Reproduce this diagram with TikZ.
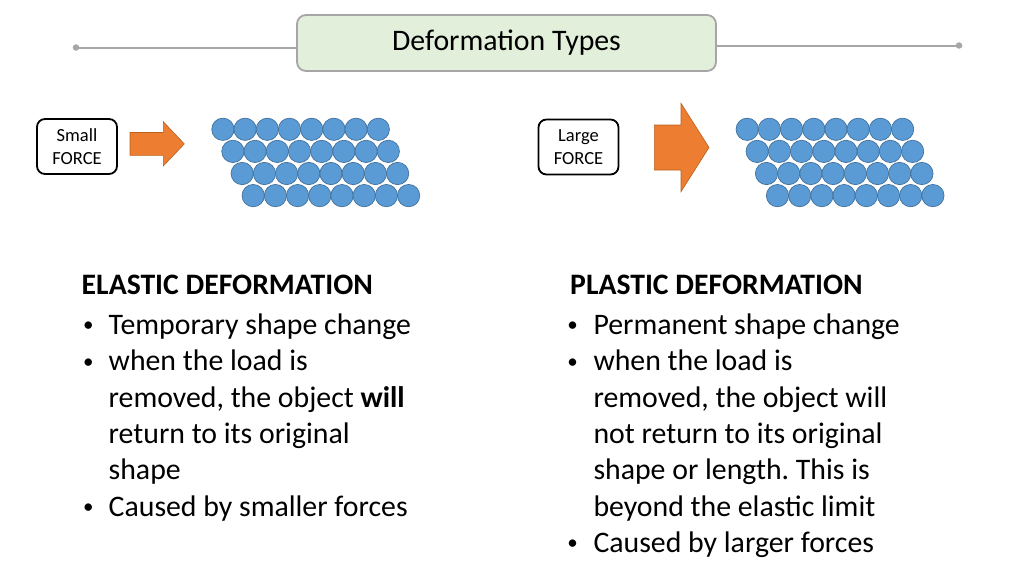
\documentclass[tikz,border=0pt]{standalone}
\usepackage{fontspec}
\setmainfont{Carlito}
\usetikzlibrary{positioning}
\frenchspacing
\definecolor{atomblue}{HTML}{5B9BD5}
\definecolor{atomedge}{HTML}{41719C}
\definecolor{pushorange}{HTML}{ED7D31}
\definecolor{pushedge}{HTML}{B9621F}
\definecolor{titlegreen}{HTML}{E2EFDA}
\definecolor{rulegray}{HTML}{A6A6A6}

\begin{document}
\begin{tikzpicture}[
            x=1pt, y=-1pt,
            atom/.style={circle, draw=atomedge, fill=atomblue, line width=0.7pt, minimum size=22.3pt, inner sep=0pt},
            push/.style={draw=pushedge, fill=pushorange, line width=0.6pt},
            forcebox/.style={draw=black, line width=1.8pt, rounded corners=8pt, fill=white, align=center,
                minimum width=80pt, minimum height=55pt, inner sep=0pt, font=\fontsize{18.5}{22.4}\selectfont},
            titlebox/.style={draw=rulegray, line width=1.8pt, rounded corners=9pt, fill=titlegreen,
                minimum width=419pt, minimum height=56pt, inner sep=0pt, font=\fontsize{29.8}{35}\selectfont},
            rule/.style={draw=rulegray, line width=2pt},
            dot/.style={circle, fill=rulegray, inner sep=0pt, minimum size=6.5pt},
            heading/.style={anchor=base west, inner sep=0pt, font=\fontsize{29.7}{35}\selectfont\bfseries},
            body/.style={anchor=base west, inner sep=0pt, font=\fontsize{29.8}{35}\selectfont},
            bullet/.style={anchor=base, inner sep=0pt, yshift=2.6pt, font=\fontsize{21}{24}\selectfont}
        ]
        \useasboundingbox[fill=white] (0,0) rectangle (1024,574);
        \def\gap{22.2}
        \def\rowstep{36.3}

        % title bar
        \node (title) at (506.5,43)[titlebox]{Deformation Types};
        \node (ldot) at (76,47.5)[dot]{};
        \node (rdot) at (959,45.5)[dot]{};
        \draw[rule] (ldot) -- (ldot -| title.west);
        \draw[rule] (rdot) -- (rdot -| title.east);

        % forces
        \node (small) at (77,146.5)[forcebox]{Small\\FORCE};
        \node (large) at (578.5,147)[forcebox]{Large\\FORCE};
        \draw[push] (130,132.5) -- (163.3,132.5) -- (163.3,121.7) -- (184.3,143.9)
            -- (163.3,166) -- (163.3,155.3) -- (130,155.3) -- cycle;
        \draw[push] (654.3,125) -- (681,125) -- (681,103.3) -- (709,147.5)
            -- (681,191.7) -- (681,170) -- (654.3,170) -- cycle;

        % atom layers
        \foreach \r/\s in {0/0, 1/10, 2/19.3, 3/30.3}
            \foreach \c in {0,...,7}{
                \node (ea-\r-\c) at ({222.9 + \s + \c*\gap}, {129.3 + \r*22.1})[atom]{};
                \node (pa-\r-\c) at ({747.2 + \s + \c*\gap}, {129.3 + \r*22.1})[atom]{};
            }

        % elastic column
        \node (elastic) at (81.5,294)[heading]{ELASTIC DEFORMATION};
        \foreach \t [count=\i from 0] in {{Temporary shape change}, {when the load is},
                {removed, the object \textbf{will}}, {return to its original}, {shape},
                {Caused by smaller forces}}
            \node (el-line-\i) at (108.5, {334.5 + \i*\rowstep})[body]{\t};
        \foreach \i in {0,1,5}
            \node (el-dot-\i) at (88.3, {334.5 + \i*\rowstep})[bullet]{•};

        % plastic column
        \node (plastic) at (570,294)[heading]{PLASTIC DEFORMATION};
        \foreach \t [count=\i from 0] in {{Permanent shape change}, {when the load is},
                {removed, the object will}, {not return to its original},
                {shape or length. This is}, {beyond the elastic limit},
                {Caused by larger forces}}
            \node (pl-line-\i) at (593.3, {334.5 + \i*\rowstep})[body]{\t};
        \foreach \i in {0,1,6}
            \node (pl-dot-\i) at (572.7, {334.5 + \i*\rowstep})[bullet]{•};
    \end{tikzpicture}
\end{document}
